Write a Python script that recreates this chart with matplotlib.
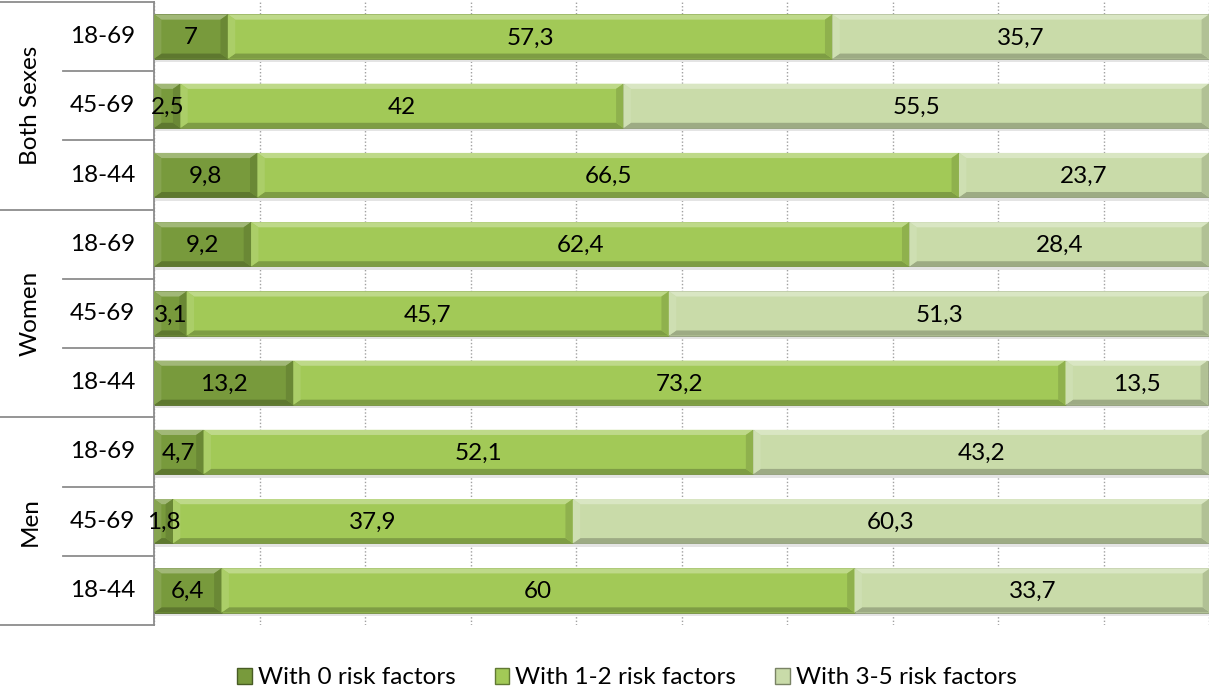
import matplotlib
matplotlib.use("Agg")
import matplotlib.pyplot as plt
import matplotlib.colors as mcolors
from matplotlib.patches import Polygon
from matplotlib.lines import Line2D
import numpy as np

plt.rcParams['font.family'] = ['Lato', 'DejaVu Sans']

# rows from top to bottom
groups = ["Both Sexes", "Women", "Men"]
ages = ["18-69", "45-69", "18-44"]
zero_rf = [7, 2.5, 9.8, 9.2, 3.1, 13.2, 4.7, 1.8, 6.4]
one_two_rf = [57.3, 42, 66.5, 62.4, 45.7, 73.2, 52.1, 37.9, 60]
three_five_rf = [35.7, 55.5, 23.7, 28.4, 51.3, 13.5, 43.2, 60.3, 33.7]
series_names = ["With 0 risk factors", "With 1-2 risk factors", "With 3-5 risk factors"]
colors = ["#789a3c", "#a2c957", "#c9dba9"]


def shade(c, f):
    r, g, b = mcolors.to_rgb(c)
    if f > 1:
        return (r + (1 - r) * (f - 1), g + (1 - g) * (f - 1), b + (1 - b) * (f - 1))
    return (r * f, g * f, b * f)


def bevel(ax, x0, w, yc, h, color, bx=0.7, by=0.075):
    x1 = x0 + w
    y0, y1 = yc - h / 2, yc + h / 2
    bxx = min(bx, w / 2)
    # y axis is inverted, so y0 is the upper edge
    facets = [
        ([(x0, y0), (x1, y0), (x1 - bxx, y0 + by), (x0 + bxx, y0 + by)], 1.3),
        ([(x0, y1), (x1, y1), (x1 - bxx, y1 - by), (x0 + bxx, y1 - by)], 0.78),
        ([(x0, y0), (x0 + bxx, y0 + by), (x0 + bxx, y1 - by), (x0, y1)], 1.1),
        ([(x1, y0), (x1 - bxx, y0 + by), (x1 - bxx, y1 - by), (x1, y1)], 0.88),
    ]
    for pts, f in facets:
        ax.add_patch(Polygon(pts, closed=True, facecolor=shade(color, f),
                             edgecolor='none', zorder=3))
    # soft shadow under the bar
    ax.add_patch(Polygon([(x0, y1), (x1, y1), (x1, y1 + 0.05), (x0, y1 + 0.05)],
                         closed=True, facecolor='#e4e4e4', edgecolor='none', zorder=1))


fig = plt.figure(figsize=(12.09, 6.92), dpi=100)
ax = fig.add_axes([154 / 1209, 1 - 625 / 692, 1055 / 1209, 623 / 692])

n = len(zero_rf)
y = np.arange(n)
h = 0.64
lefts = np.zeros(n)
for vals, col in zip([zero_rf, one_two_rf, three_five_rf], colors):
    vals = np.array(vals, dtype=float)
    ax.barh(y, vals, left=lefts, height=h, color=col, edgecolor=shade(col, 0.7),
            linewidth=0.6, zorder=2)
    for i in range(n):
        bevel(ax, lefts[i], vals[i], y[i], h, col)
        ax.text(lefts[i] + vals[i] / 2, y[i] + 0.02, f"{vals[i]:g}".replace(".", ","),
                ha='center', va='center', fontsize=17.5, color='black', zorder=5)
    lefts += vals

ax.set_xlim(0, 100)
ax.set_ylim(n - 0.5, -0.5)
ax.set_xticks(np.arange(0, 101, 10))
ax.tick_params(axis='x', length=0, labelbottom=False)
ax.set_yticks([])
ax.grid(axis='x', color='#a0a0a0', linestyle=(0, (1, 1.5)), linewidth=1, zorder=0)
ax.set_axisbelow(True)
for s in ['top', 'right', 'bottom']:
    ax.spines[s].set_visible(False)
ax.spines['left'].set_color('#8c8c8c')
ax.spines['left'].set_linewidth(1.3)

# hierarchical category axis
tr = ax.get_yaxis_transform()
for i in range(n):
    ax.text(-0.049, y[i], ages[i % 3], transform=tr, ha='center', va='center', fontsize=17.5)
for k, g in enumerate(groups):
    ax.text(-0.1175, 3 * k + 1, g, transform=tr, ha='center', va='center',
            rotation=90, fontsize=17.5)
for b in np.arange(-0.5, n, 1.0):
    start = -0.146 if (b + 0.5) % 3 == 0 else -0.086
    ax.add_line(Line2D([start, 0], [b, b], transform=tr, color='#8c8c8c',
                       linewidth=1.3, clip_on=False))

# legend
handles = [plt.Rectangle((0, 0), 1, 1, facecolor=c, edgecolor=shade(c, 0.6)) for c in colors]
fig.legend(handles, series_names, loc='center', bbox_to_anchor=(627 / 1209, 1 - 678 / 692),
           ncol=3, frameon=False, fontsize=17.5, handlelength=0.6, handleheight=0.6,
           handletextpad=0.25, columnspacing=1.6)

fig.savefig("out.png", dpi=100)
